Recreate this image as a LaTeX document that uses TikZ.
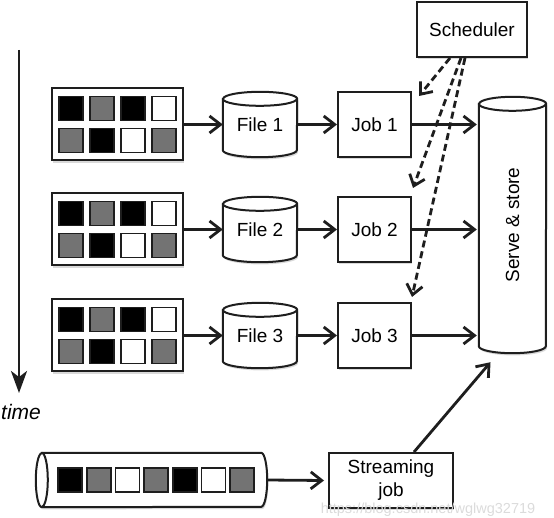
\documentclass[tikz,border=0pt]{standalone}
\usepackage{fontspec}
\setmainfont{Liberation Sans}
\usetikzlibrary{arrows.meta,shadows,backgrounds}
\definecolor{midgray}{HTML}{737373}
\definecolor{edge}{HTML}{1E1E1E}
\begin{document}
\begin{tikzpicture}[x=1pt,y=1pt,
  font=\fontsize{19}{23}\selectfont,
  shad/.style={drop shadow={shadow xshift=1.2pt,shadow yshift=-2.2pt,opacity=0.3}},
  box/.style={draw=edge,line width=2pt,fill=white,shad,inner sep=0pt,align=center},
  cell/.style={draw=edge,line width=1.6pt,minimum size=24pt,inner sep=0pt},
  anchorbox/.style={draw=none,inner sep=0pt},
  cyl/.style={draw=edge,line width=2pt,fill=white,shad},
  cylrim/.style={draw=edge,line width=2pt},
  conn/.style={draw=edge,line width=2.8pt,-{Straight Barb[length=11pt,width=17pt]}},
  dashconn/.style={draw=edge,line width=2.8pt,dash pattern=on 7pt off 4pt,-{Straight Barb[length=10pt,width=16pt]}},
  timeconn/.style={draw=edge,line width=2.8pt,-{Stealth[length=22pt,width=16pt,inset=6pt]}}
]
\useasboundingbox (0,0) rectangle (554,-518);

% time axis
\coordinate (t0) at (19,-50);
\coordinate (t1) at (19,-393);
\draw[timeconn] (t0) -- (t1);
\node[inner sep=0pt] (time) at (21,-412) {\fontsize{21}{24}\selectfont\itshape time};

% scheduler
\node[box,minimum width=110pt,minimum height=55pt] (sched) at (472,-29.5) {Scheduler};

% rows
\foreach \r/\y in {1/124.5,2/229.5,3/335.5}{
  \node[box,minimum width=131pt,minimum height=72pt] (batch\r) at (117.5,-\y) {};
  \foreach \c/\dx/\col in {1/-46.5/black,2/-15.5/midgray,3/15.5/black,4/46.5/white}{
    \node[cell,fill=\col] (b\r u\c) at (117.5+\dx,-\y+16) {};
  }
  \foreach \c/\dx/\col in {1/-46.5/midgray,2/-15.5/black,3/15.5/white,4/46.5/midgray}{
    \node[cell,fill=\col] (b\r l\c) at (117.5+\dx,-\y-16) {};
  }
  \node[anchorbox,minimum width=74pt,minimum height=65pt] (file\r) at (260,-\y) {\raisebox{-3pt}{File \r}};
  \begin{scope}[on background layer]
    \draw[cyl] ([yshift=-7pt]file\r.north west) -- ([yshift=7pt]file\r.south west)
      arc[start angle=180,end angle=360,x radius=37pt,y radius=7pt]
      -- ([yshift=-7pt]file\r.north east)
      arc[start angle=0,end angle=180,x radius=37pt,y radius=7pt] -- cycle;
    \draw[cylrim] ([yshift=-7pt]file\r.north west) arc[start angle=180,end angle=360,x radius=37pt,y radius=7pt];
  \end{scope}
  \node[box,minimum width=73pt,minimum height=65pt] (job\r) at (374.5,-\y) {Job \r};
  \draw[conn] (batch\r.east) -- (file\r.west);
  \draw[conn] (file\r.east) -- (job\r.west);
}

% serve & store
\node[anchorbox,minimum width=67pt,minimum height=256pt] (serve) at (512.5,-225) {\rotatebox{90}{Serve \& store}};
\begin{scope}[on background layer]
  \draw[cyl] ([yshift=-7pt]serve.north west) -- ([yshift=7pt]serve.south west)
    arc[start angle=180,end angle=360,x radius=33.5pt,y radius=7pt]
    -- ([yshift=-7pt]serve.north east)
    arc[start angle=0,end angle=180,x radius=33.5pt,y radius=7pt] -- cycle;
  \draw[cylrim] ([yshift=-7pt]serve.north west) arc[start angle=180,end angle=360,x radius=33.5pt,y radius=7pt];
\end{scope}

\foreach \r in {1,2,3}{
  \draw[conn] (job\r.east) -- ([xshift=-2pt]serve.west |- job\r.east);
}

% dashed scheduler arrows
\draw[dashconn] ([xshift=-22pt]sched.south) -- ([xshift=7pt,yshift=-5pt]job1.north east);
\draw[dashconn] ([xshift=-11pt]sched.south) -- ([xshift=1pt,yshift=8pt]job2.north east);
\draw[dashconn] ([xshift=-7pt]sched.south) -- ([xshift=0pt,yshift=5pt]job3.north east);

% streaming tube
\node[anchorbox,minimum width=231pt,minimum height=54pt] (tube) at (151.5,-480) {};
\begin{scope}[on background layer]
  \draw[cyl] ([xshift=6pt]tube.north west) -- ([xshift=-6pt]tube.north east)
    arc[start angle=90,end angle=-90,x radius=6pt,y radius=27pt]
    -- ([xshift=6pt]tube.south west)
    arc[start angle=270,end angle=90,x radius=6pt,y radius=27pt] -- cycle;
  \draw[cylrim] ([xshift=6pt]tube.north west) arc[start angle=90,end angle=-90,x radius=6pt,y radius=27pt];
\end{scope}
\foreach \c/\xx/\col in {1/70/black,2/98.7/midgray,3/127.4/white,4/156.1/midgray,5/184.8/black,6/213.5/white,7/242.2/midgray}{
  \node[cell,fill=\col] (s\c) at (\xx,-480) {};
}

% streaming job
\node[box,minimum width=124pt,minimum height=55pt] (stream) at (391,-480.5) {Streaming\\job};
\draw[conn] (tube.east) -- ([xshift=-4pt]stream.west);
\draw[conn] ([xshift=23pt]stream.north) -- ([xshift=-22pt,yshift=-9pt]serve.south);

% watermark
\node[inner sep=0pt,text=gray!28] (wm) at (428,-510) {\fontsize{14.5}{17}\selectfont https://blog.csdn.net/wglwg32719};
\end{tikzpicture}
\end{document}
